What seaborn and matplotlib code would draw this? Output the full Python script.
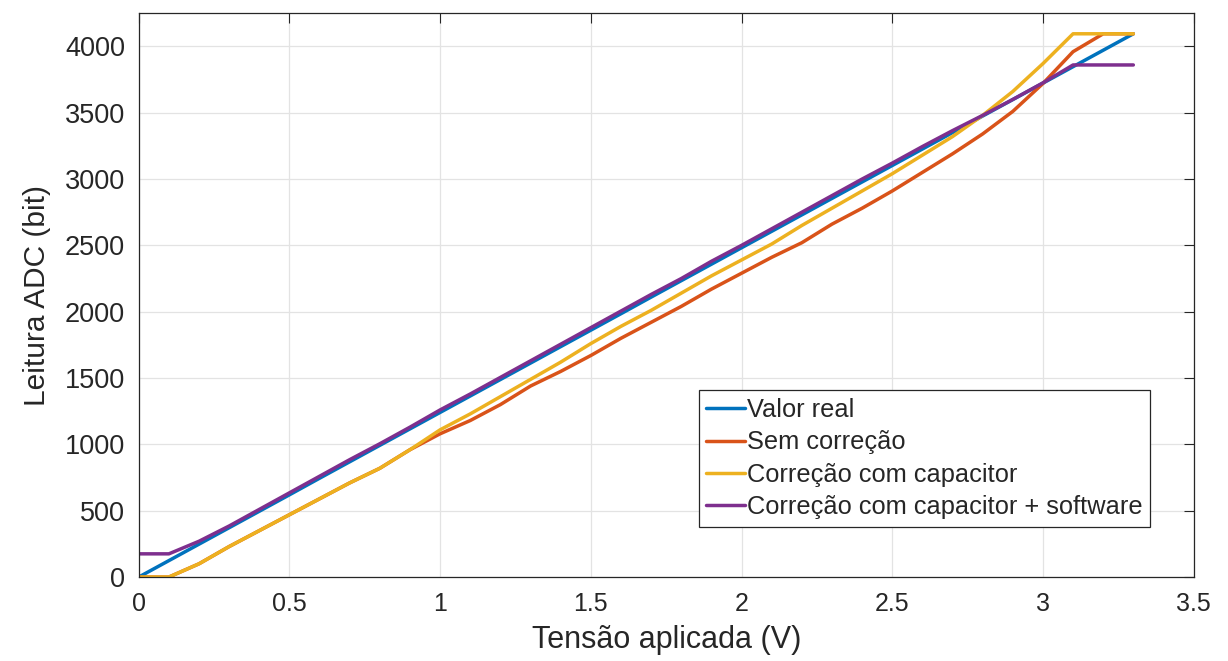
import numpy as np
import pandas as pd
import matplotlib
matplotlib.use("Agg")
import matplotlib.pyplot as plt
import seaborn as sns

tensao = [round(0.1 * i, 1) for i in range(34)]

valor_real = [0, 124, 248, 372, 496, 620, 745, 869, 993, 1117, 1241, 1365, 1489, 1613,
              1737, 1861, 1985, 2110, 2234, 2358, 2482, 2606, 2730, 2854, 2978, 3102,
              3226, 3350, 3475, 3599, 3723, 3847, 3971, 4095]
sem_correcao = [0, 0, 100, 230, 350, 470, 590, 710, 820, 960, 1080, 1180, 1300, 1440,
                1550, 1670, 1800, 1920, 2040, 2170, 2290, 2410, 2520, 2660, 2780, 2910,
                3050, 3190, 3340, 3510, 3720, 3960, 4095, 4095]
corr_capacitor = [0, 0, 100, 230, 350, 470, 590, 710, 820, 960, 1110, 1230, 1360, 1490,
                  1620, 1760, 1890, 2010, 2140, 2270, 2390, 2510, 2650, 2780, 2910, 3040,
                  3180, 3320, 3480, 3660, 3870, 4095, 4095, 4095]
corr_cap_software = [175, 175, 270, 385, 510, 635, 760, 885, 1005, 1130, 1260, 1380, 1505,
                     1630, 1755, 1880, 2005, 2130, 2250, 2380, 2500, 2625, 2750, 2875, 3000,
                     3120, 3245, 3365, 3480, 3600, 3725, 3860, 3860, 3860]

series_names = ["Valor real", "Sem correção", "Correção com capacitor",
                "Correção com capacitor + software"]
series_values = [valor_real, sem_correcao, corr_capacitor, corr_cap_software]
colors = ["#0072BD", "#D95319", "#EDB120", "#7E2F8E"]

xticks = [0, 0.5, 1, 1.5, 2, 2.5, 3, 3.5]
xtick_labels = ["0", "0.5", "1", "1.5", "2", "2.5", "3", "3.5"]
yticks = [0, 500, 1000, 1500, 2000, 2500, 3000, 3500, 4000]

df = pd.concat([
    pd.DataFrame({"Tensão": tensao, "Leitura": vals, "Série": name})
    for name, vals in zip(series_names, series_values)
], ignore_index=True)

sns.set_style("white")
plt.rcParams["font.family"] = ["Liberation Sans", "DejaVu Sans"]

fig = plt.figure(figsize=(12.28, 6.61), dpi=100)
ax = fig.add_axes([0.113, 0.127, 0.859, 0.853])

sns.lineplot(data=df, x="Tensão", y="Leitura", hue="Série", hue_order=series_names,
             palette=colors, linewidth=2.5, ax=ax, sort=False, estimator=None)

ax.set_xlim(0, 3.5)
ax.set_ylim(0, 4250)
ax.set_xticks(xticks)
ax.set_xticklabels(xtick_labels)
ax.set_yticks(yticks)
ax.grid(True, color="#e3e3e3", linewidth=0.9)
ax.set_axisbelow(True)
for s in ax.spines.values():
    s.set_color("#262626")
    s.set_linewidth(0.9)
ax.tick_params(direction="in", length=7, width=0.8, top=True, right=True,
               colors="#262626")
ax.tick_params(axis="x", labelsize=18, pad=11)
ax.tick_params(axis="y", labelsize=19.5, pad=10)
ax.set_xlabel("Tensão aplicada (V)", fontsize=22, color="#262626", labelpad=6)
ax.set_ylabel("Leitura ADC (bit)", fontsize=21.5, color="#262626", labelpad=10)

leg = ax.legend(loc="lower right", bbox_to_anchor=(0.959, 0.089), fontsize=18.3,
                frameon=True, fancybox=False, handlelength=1.5, handletextpad=0.1,
                borderpad=0.3, labelspacing=0.33, borderaxespad=0)
leg.get_frame().set_edgecolor("#262626")
leg.get_frame().set_linewidth(0.9)
leg.get_frame().set_alpha(1)
for line in leg.get_lines():
    line.set_linewidth(2.5)

fig.savefig("out.png", dpi=100)
